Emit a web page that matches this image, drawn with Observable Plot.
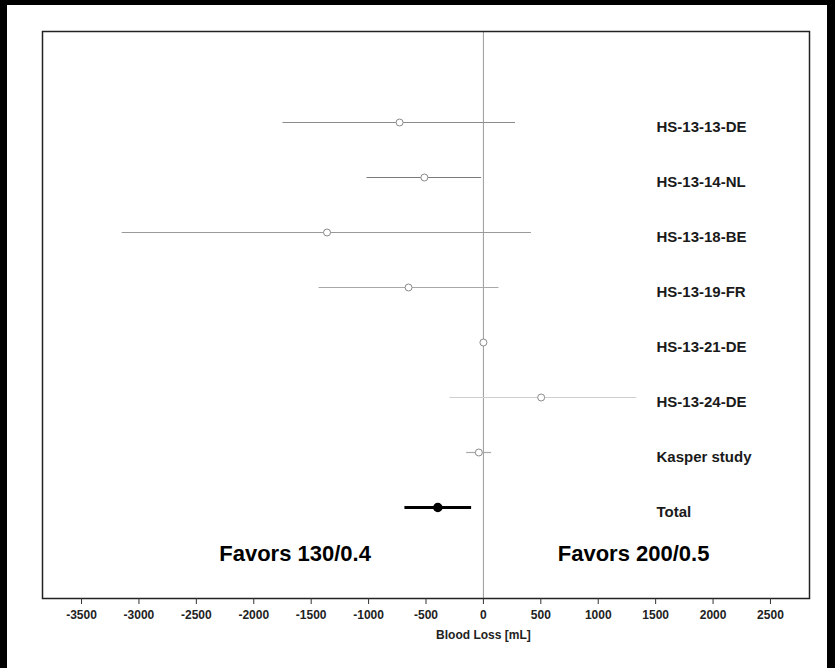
<!DOCTYPE html>
<html>
<head>
<meta charset="utf-8">
<script src="https://cdn.jsdelivr.net/npm/d3@7"></script>
<script src="https://cdn.jsdelivr.net/npm/@observablehq/plot@0.6"></script>
<style>
  html, body { margin: 0; padding: 0; background: #000; width: 835px; height: 668px; overflow: hidden; }
  #paper { position: absolute; left: 7px; top: 5px; width: 820px; height: 663px; background: #fff; }
  #chart { position: absolute; left: 0; top: 0; }
</style>
</head>
<body>
<div id="paper"></div>
<div id="chart"></div>
<script>
// ---- data ----
const studies  = ["HS-13-13-DE", "HS-13-14-NL", "HS-13-18-BE", "HS-13-19-FR", "HS-13-21-DE", "HS-13-24-DE", "Kasper study", "Total"];
const estimate = [-730, -514, -1362, -652, 0, 503, -40, -397];
const lower    = [-1750, -1018, -3150, -1436, -15, -296, -150, -688];
const upper    = [275, -20, 414, 131, 15, 1331, 67, -107];
const xTicks   = [-3500, -3000, -2500, -2000, -1500, -1000, -500, 0, 500, 1000, 1500, 2000, 2500];
const favorLabels = ["Favors 130/0.4", "Favors 200/0.5"];
const favorX      = [-1640, 1308];
const axisLabel   = "Blood Loss [mL]";

// ---- style (not data) ----
const lineGrays = ["#8c8c8c", "#7a7a7a", "#999999", "#a8a8a8", "#aaaaaa", "#cfcfcf", "#a8a8a8", "#000000"];

const rows = studies.map((s, i) => ({
  study: s, est: estimate[i], lo: lower[i], hi: upper[i], shade: lineGrays[i], total: s === "Total"
}));
const trials = rows.filter(d => !d.total);
const total = rows.filter(d => d.total);
const favors = favorLabels.map((t, i) => ({text: t, x: favorX[i]}));

const font = "'Liberation Sans', Arial, Helvetica, sans-serif";

const chart = Plot.plot({
  width: 835,
  height: 668,
  marginLeft: 42,
  marginRight: 26,
  marginTop: 31,
  marginBottom: 70,
  style: {fontFamily: font, background: "transparent", color: "#222"},
  x: {domain: [-3840, 2840]},
  y: {type: "point", domain: studies, padding: 1.57},
  marks: [
    Plot.ruleX([0], {stroke: "#9a9a9a", strokeWidth: 1}),
    Plot.link(trials, {x1: "lo", x2: "hi", y1: "study", y2: "study", stroke: d => d.shade, strokeWidth: 1.2}),
    Plot.dot(trials, {x: "est", y: "study", r: 3.5, stroke: "#8a8a8a", fill: "white", strokeWidth: 1}),
    Plot.link(total, {x1: "lo", x2: "hi", y1: "study", y2: "study", stroke: "#000", strokeWidth: 3}),
    Plot.dot(total, {x: "est", y: "study", r: 4, fill: "#000", stroke: "#000"}),
    Plot.frame({stroke: "#222", strokeWidth: 1.5}),
    Plot.axisX({ticks: xTicks, tickFormat: d => String(d), tickSize: 6, tickPadding: 6, fontSize: 12, fontWeight: "bold", label: null, stroke: "#333", fill: "#222"}),
    Plot.text([0], {x: d => d, frameAnchor: "bottom", dy: 40, text: () => axisLabel, fontSize: 12, fontWeight: "bold", fill: "#222"}),
    Plot.axisY({anchor: "right", tickSize: 0, tickPadding: 0, dx: -153, dy: 5, textAnchor: "start", fontSize: 15, fontWeight: "bold", label: null, fill: "#1a1a1a"}),
    Plot.text(favors, {x: "x", text: "text", frameAnchor: "bottom", dy: -45, lineAnchor: "middle", fontSize: 22, fontWeight: "bold", fill: "#000"})
  ]
});
document.getElementById("chart").appendChild(chart);
</script>
</body>
</html>
